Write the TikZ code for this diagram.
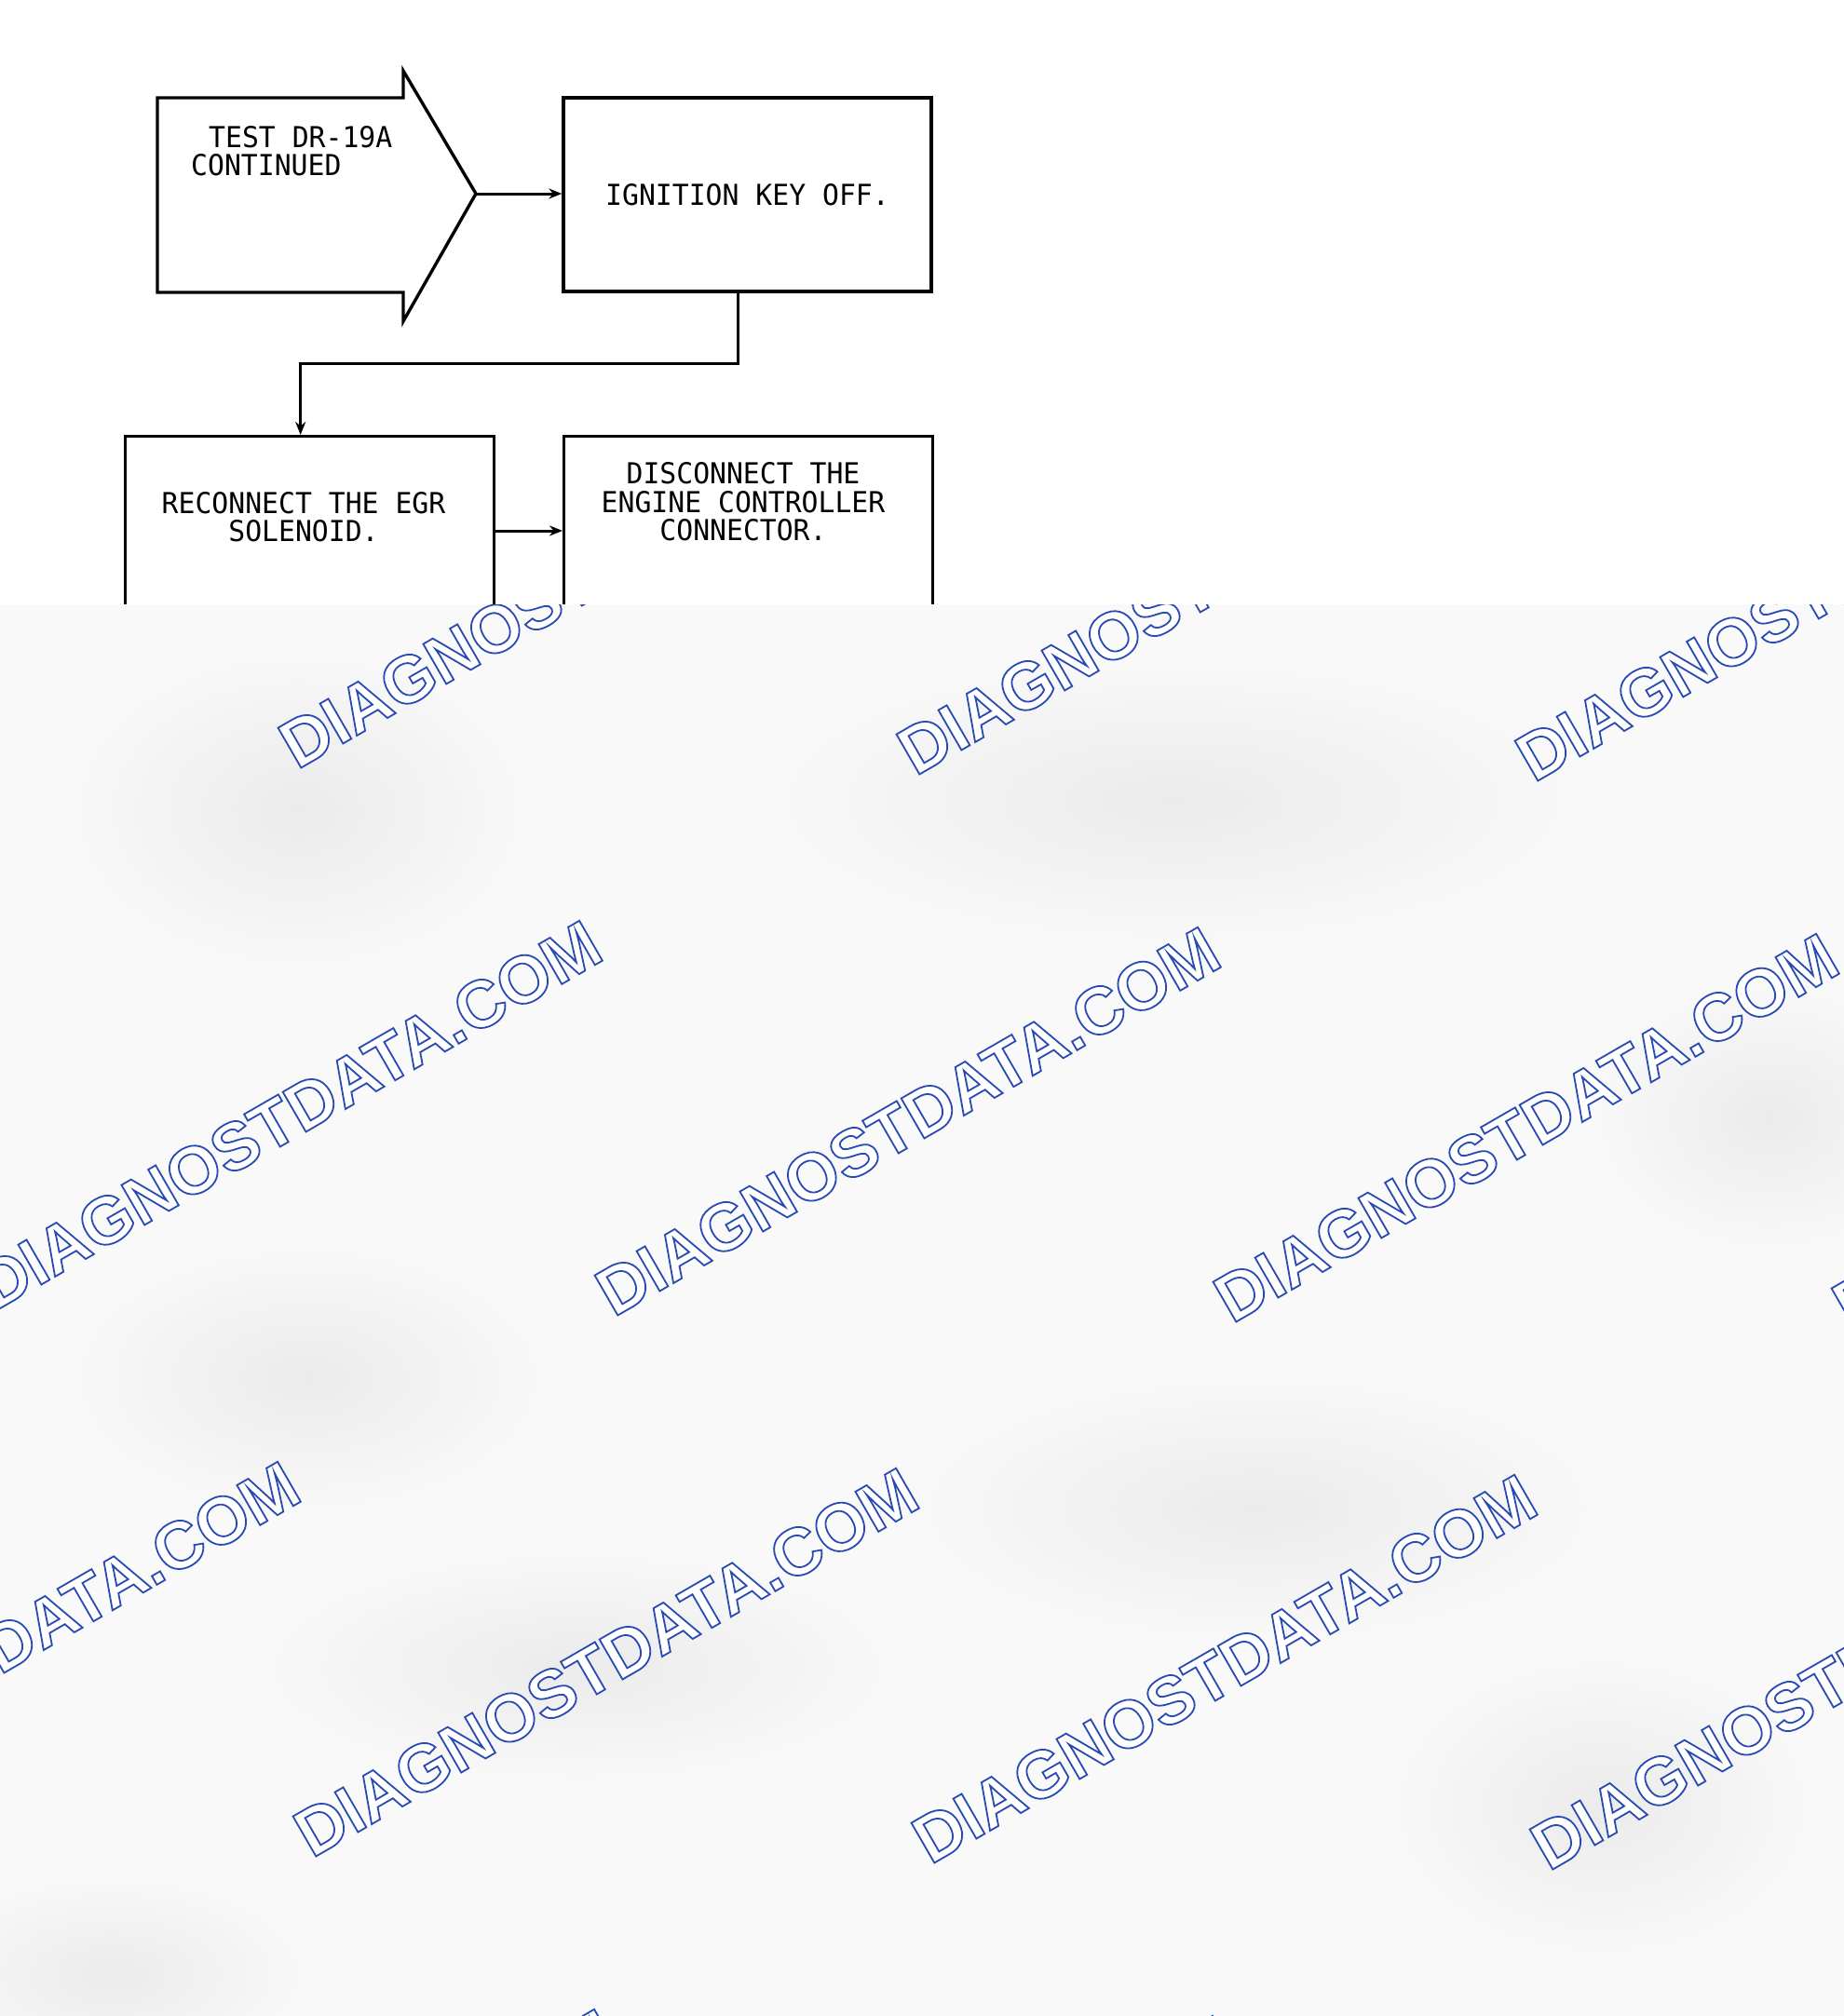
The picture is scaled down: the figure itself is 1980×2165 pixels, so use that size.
\documentclass[tikz,border=0pt]{standalone}
\usepackage{fontspec}
\usetikzlibrary{arrows.meta,calc}
\newfontfamily\plotfont{DejaVu Sans Mono}[FakeStretch=0.96]
\newfontfamily\wmfont{Liberation Sans}
\definecolor{bgray}{HTML}{F9F9F9}
\definecolor{blob}{HTML}{EBEBEB}
\newcommand{\wmtext}{\special{pdf:code q 2 Tr 1 1 1 rg 0.16 0.29 0.70 RG 1.8 w}DIAGNOSTDATA.COM\special{pdf:code Q}}
\begin{document}
\begin{tikzpicture}[x=1pt,y=-1pt,
  line/.style={draw=black, line width=3.4pt, line join=miter},
  boxnode/.style={line, rectangle, inner sep=0pt},
  txt/.style={font=\plotfont\fontsize{31}{30.5}\selectfont, align=center, inner sep=0pt},
  conn/.style={line width=3pt, -{Stealth[length=14pt,width=11pt]}},
  wm/.style={font=\wmfont\bfseries\fontsize{72}{80}\selectfont, inner sep=0pt, rotate=30, anchor=base west}]
\useasboundingbox (0,0) rectangle (1980,2165);
\fill[white] (0,0) rectangle (1980,2165);

% entry arrow
\draw[line] (169,105) -- (433,105) -- (433,76) -- (511,208) -- (433,345) -- (433,314) -- (169,314) -- cycle;
\coordinate (tip) at (511,208);
\node[txt, align=left, anchor=west] (cont) at (205,162) {\hspace*{19pt}TEST DR-19A\\CONTINUED};

% boxes
\node[boxnode, minimum width=395pt, minimum height=208pt, txt] (ign) at (802.5,209) {IGNITION KEY OFF.};
\node[boxnode, minimum width=396pt, minimum height=400pt, anchor=north west] (recon) at (133,467) {};
\node[boxnode, minimum width=396pt, minimum height=400pt, anchor=north west] (disc) at (604,467) {};
\node[txt] (recontxt) at (326,555) {RECONNECT THE EGR\\SOLENOID.};
\node[txt] (disctxt) at (798,539) {DISCONNECT THE\\ENGINE CONTROLLER\\CONNECTOR.};

% connectors
\draw[conn] (tip) -- (tip -| ign.west);
\draw[conn] ($(ign.south)+(-10,0)$) -- ++(0,76) -| ($(recon.north)+(-10,0)$);
\draw[conn] ($(recon.north east)+(0,103)$) -- ($(disc.north west)+(0,103)$);

% watermark layer
\fill[bgray] (0,649) rectangle (1980,2165);
\begin{scope}
\clip (0,649) rectangle (1980,2165);
\foreach \cx/\cy/\rx/\ry in {320/870/260/180, 1260/860/460/160, 330/1480/270/150, 620/1790/360/130, 1350/1620/390/150, 1720/1940/240/170, 120/2120/220/110, 1900/1200/200/150}
  \shade[inner color=blob, outer color=bgray] (\cx,\cy) ellipse [x radius=\rx, y radius=\ry];
\foreach \j in {-2,-1,0,1,2}
  \foreach \k in {-1,0,1,2}{
    \pgfmathsetmacro{\px}{659+664*\j+340*\k}
    \pgfmathsetmacro{\py}{1415+7*\j+588*\k}
    \node[wm] (wm\j\k) at (\px,\py) {\wmtext};
  }
\end{scope}
\end{tikzpicture}
\end{document}
